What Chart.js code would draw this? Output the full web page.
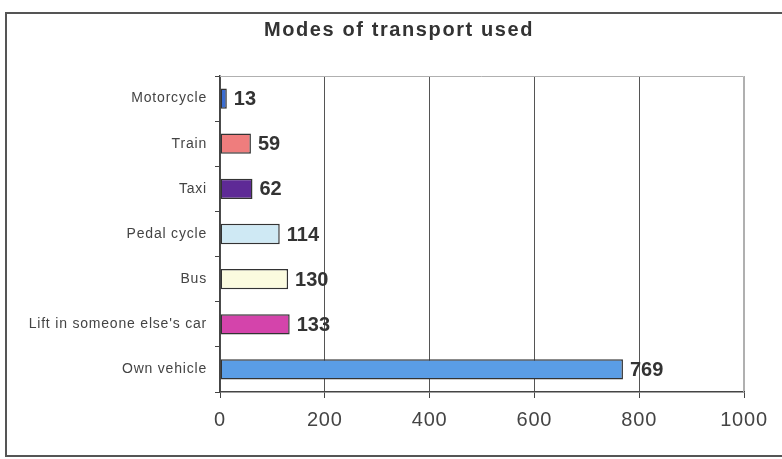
<!DOCTYPE html>
<html>
<head>
<meta charset="utf-8">
<script src="https://cdn.jsdelivr.net/npm/chart.js@4"></script>
<style>
  html, body { margin: 0; padding: 0; background: #fff; }
  #wrap { position: relative; width: 782px; height: 459px; overflow: hidden; }
  #frame { position: absolute; left: 5px; top: 12px; width: 800px; height: 441px; border: 2px solid #555; }
  canvas { position: absolute; left: 0; top: 0; }
</style>
</head>
<body>
<div id="wrap">
  <div id="frame"></div>
  <canvas id="grafico" width="782" height="459"></canvas>
</div>
<script>
const titulo = 'Modes of transport used';
const modos = ['Motorcycle', 'Train', 'Taxi', 'Pedal cycle', 'Bus', "Lift in someone else's car", 'Own vehicle'];
const valores = [13, 59, 62, 114, 130, 133, 769];
const cores = ['#3a6cd0', '#ef7d7d', '#5e2a96', '#cfe9f4', '#fbfbdf', '#d444ab', '#5a9de6'];
const ticksX = [0, 200, 400, 600, 800, 1000];

const fonte = '"Liberation Sans", Arial, sans-serif';

// espacamento das letras para os eixos
const espacamento = {
  id: 'espacamento',
  beforeDraw(chart) {
    chart.ctx.letterSpacing = '0.8px';
  }
};

// titulo e numeros ao lado das barras
const textos = {
  id: 'textos',
  afterDraw(chart) {
    const ctx = chart.ctx;
    const meta = chart.getDatasetMeta(0);
    ctx.save();
    ctx.letterSpacing = '0px';
    ctx.font = 'bold 20px ' + fonte;
    ctx.fillStyle = '#333';
    ctx.textBaseline = 'middle';
    ctx.textAlign = 'left';
    meta.data.forEach((barra, i) => {
      ctx.fillText(String(valores[i]), barra.x + 7, barra.y + 1);
    });

    ctx.letterSpacing = '1.6px';
    ctx.font = 'bold 20px ' + fonte;
    ctx.textAlign = 'center';
    ctx.textBaseline = 'alphabetic';
    ctx.fillText(titulo, 399, 36);
    ctx.restore();
  }
};

// borda clara em cima e a direita da area do grafico
const bordaArea = {
  id: 'bordaArea',
  beforeDatasetsDraw(chart) {
    const a = chart.chartArea;
    const ctx = chart.ctx;
    ctx.save();
    ctx.strokeStyle = '#b0b0b0';
    ctx.lineWidth = 1;
    ctx.beginPath();
    ctx.moveTo(a.left, a.top + 0.5);
    ctx.lineTo(a.right - 0.5, a.top + 0.5);
    ctx.lineTo(a.right - 0.5, a.bottom);
    ctx.stroke();
    ctx.restore();
  }
};

new Chart(document.getElementById('grafico'), {
  type: 'bar',
  data: {
    labels: modos,
    datasets: [{
      data: valores,
      backgroundColor: cores,
      borderColor: '#333',
      borderWidth: 1.5,
      borderSkipped: false,
      barPercentage: 0.45,
      categoryPercentage: 1
    }]
  },
  options: {
    indexAxis: 'y',
    responsive: false,
    animation: false,
    layout: { padding: { left: 0, right: 38, top: 76, bottom: 0 } },
    plugins: {
      legend: { display: false },
      tooltip: { enabled: false },
      title: { display: false }
    },
    scales: {
      x: {
        min: 0,
        max: 1000,
        afterBuildTicks: (s) => { s.ticks = ticksX.map(v => ({ value: v })); },
        afterFit: (s) => { s.height = 67; },
        border: { display: true, color: '#444', width: 1.5 },
        grid: {
          color: (c) => (c.tick && c.tick.value === 1000 ? '#b0b0b0' : '#555'),
          lineWidth: 1,
          tickLength: 6,
          tickColor: '#444'
        },
        ticks: {
          color: '#444',
          padding: 10,
          callback: (v) => String(v),
          font: { family: fonte, size: 20 }
        }
      },
      y: {
        afterFit: (s) => { s.width = 220; },
        border: { display: true, color: '#444', width: 1.5 },
        grid: {
          drawOnChartArea: false,
          offset: true,
          tickLength: 5,
          tickColor: '#444'
        },
        ticks: {
          color: '#444',
          padding: 8,
          font: { family: fonte, size: 14 }
        }
      }
    }
  },
  plugins: [espacamento, bordaArea, textos]
});
</script>
</body>
</html>
